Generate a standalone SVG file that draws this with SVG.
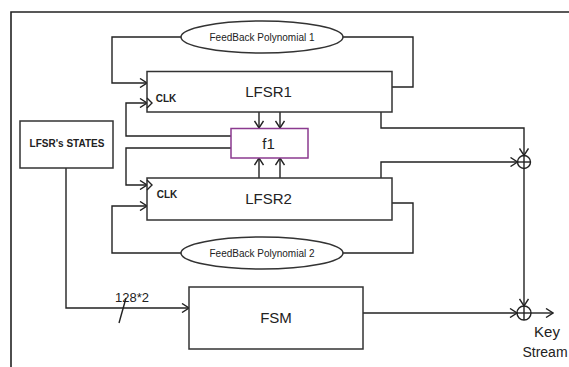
<svg xmlns="http://www.w3.org/2000/svg" width="569" height="367" viewBox="0 0 569 367">
<defs>
<marker id="arr" viewBox="-8 -5 9 10" refX="0" refY="0" markerWidth="9" markerHeight="10" markerUnits="userSpaceOnUse" orient="auto">
<path d="M-7,-4.5 L0,0 L-7,4.5" fill="none" stroke="#222" stroke-width="1.4"/>
</marker>
</defs>
<style>
.box{fill:#fff;stroke:#333;stroke-width:1.5}
.f1{fill:#fff;stroke:#8b3a8f;stroke-width:1.5}
.ln{fill:none;stroke:#222;stroke-width:1.4}
.t{font-family:"Liberation Sans",Arial,sans-serif;fill:#222;text-anchor:middle}
.big{font-size:15px}
.small{font-size:10px}
.bold{font-weight:bold}
</style>
<rect width="569" height="367" fill="#fff"/>
<g id="frame">
<polyline class="ln" points="11,367 11,12 569,12" stroke="#444" style="stroke-width:1.6"/>
</g>
<g id="connectors">
<polyline class="ln" points="181,37 112,37 112,83 147,83" marker-end="url(#arr)"/>
<polyline class="ln" points="343,37 413,37 413,87 392,87"/>
<polyline class="ln" points="231,136 126,136 126,103 147,103" marker-end="url(#arr)"/>
<polyline class="ln" points="231,148 126,148 126,185 147,185" marker-end="url(#arr)"/>
<line class="ln" x1="259" y1="112" x2="259" y2="128" marker-end="url(#arr)"/>
<line class="ln" x1="280" y1="112" x2="280" y2="128" marker-end="url(#arr)"/>
<line class="ln" x1="259" y1="178" x2="259" y2="158" marker-end="url(#arr)"/>
<line class="ln" x1="280" y1="178" x2="280" y2="158" marker-end="url(#arr)"/>
<polyline class="ln" points="181,253 112,253 112,206 147,206" marker-end="url(#arr)"/>
<polyline class="ln" points="343,253 413,253 413,203 392,203"/>
<polyline class="ln" points="381,112 381,128 524,128 524,155.5" marker-end="url(#arr)"/>
<polyline class="ln" points="381,178 381,162 517.5,162" marker-end="url(#arr)"/>
<line class="ln" x1="524" y1="168.5" x2="524" y2="306" marker-end="url(#arr)"/>
<line class="ln" x1="363" y1="313" x2="517" y2="313" marker-end="url(#arr)"/>
<line class="ln" x1="531" y1="313" x2="553" y2="313" marker-end="url(#arr)"/>
<polyline class="ln" points="66,168 66,308 189,308" marker-end="url(#arr)"/>
<line class="ln" x1="119" y1="323" x2="126" y2="298"/>
<text class="t" x="132" y="302" style="font-size:13px">128*2</text>
</g>
<g id="fb1">
<ellipse class="box" cx="262" cy="37" rx="81" ry="16"/>
<text class="t small" x="262" y="40.5">FeedBack Polynomial 1</text>
</g>
<g id="lfsr1">
<rect class="box" x="147" y="71.5" width="245" height="40.5"/>
<polyline class="ln" points="147,98 152,103 147,108"/>
<text class="t small bold" x="166" y="102">CLK</text>
<text class="t big" x="268.5" y="97">LFSR1</text>
</g>
<g id="f1">
<rect class="f1" x="231" y="128.5" width="77" height="29.5"/>
<text class="t big" x="268.5" y="149">f1</text>
</g>
<g id="lfsr2">
<rect class="box" x="147" y="178" width="245" height="42"/>
<polyline class="ln" points="147,180 152,185 147,190"/>
<text class="t small bold" x="167" y="198">CLK</text>
<text class="t big" x="268.5" y="204">LFSR2</text>
</g>
<g id="fb2">
<ellipse class="box" cx="262" cy="253" rx="81" ry="16"/>
<text class="t small" x="262" y="256.5">FeedBack Polynomial 2</text>
</g>
<g id="states">
<rect class="box" x="20" y="121" width="93" height="47"/>
<text class="t small bold" x="67" y="147">LFSR's STATES</text>
</g>
<g id="fsm">
<rect class="box" x="189" y="287" width="174" height="62"/>
<text class="t big" x="276" y="323">FSM</text>
</g>
<g id="xor1">
<circle class="ln" cx="524" cy="162" r="6.5"/>
<line class="ln" x1="517.5" y1="162" x2="530.5" y2="162"/>
<line class="ln" x1="524" y1="155.5" x2="524" y2="168.5"/>
</g>
<g id="xor2">
<circle class="ln" cx="524" cy="313" r="7"/>
<line class="ln" x1="517" y1="313" x2="531" y2="313"/>
<line class="ln" x1="524" y1="306" x2="524" y2="320"/>
</g>
<g id="keystream">
<text class="t big" x="547" y="337">Key</text>
<text class="t" x="545" y="357" style="font-size:14px">Stream</text>
</g>
</svg>
